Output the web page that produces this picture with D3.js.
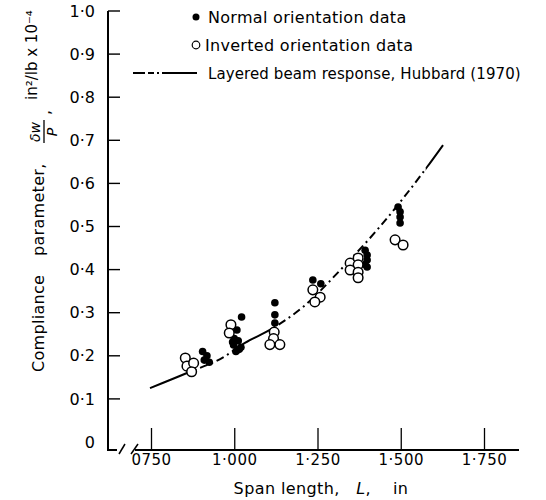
<!DOCTYPE html>
<html>
<head>
<meta charset="utf-8">
<script src="https://cdn.jsdelivr.net/npm/d3@7"></script>
<style>
  body { margin: 0; background: #fff; }
  text { font-family: "DejaVu Sans", sans-serif; fill: #000; }
</style>
</head>
<body>
<script>
// Width and height of the svg
var w = 546;
var h = 500;

// Axis ticks and labels
var xTicks = [0.75, 1.0, 1.25, 1.5, 1.75];
var xTickLabels = ["0750", "1·000", "1·250", "1·500", "1·750"];
var yTicks = [0, 0.1, 0.2, 0.3, 0.4, 0.5, 0.6, 0.7, 0.8, 0.9, 1.0];
var yTickLabels = ["0", "0·1", "0·2", "0·3", "0·4", "0·5", "0·6", "0·7", "0·8", "0·9", "1·0"];

// Normal orientation data (filled dots): span length, compliance
var normalSpan = [0.905, 0.918, 0.925, 0.910,
                  1.022, 1.008, 1.000, 1.012, 0.998, 1.020, 1.005, 1.015, 0.995,
                  1.122, 1.122, 1.122,
                  1.236, 1.260,
                  1.393, 1.399, 1.399, 1.399, 1.393,
                  1.492, 1.498, 1.498, 1.498];
var normalValue = [0.210, 0.200, 0.185, 0.190,
                   0.290, 0.260, 0.240, 0.235, 0.225, 0.220, 0.210, 0.215, 0.232,
                   0.323, 0.295, 0.276,
                   0.376, 0.367,
                   0.445, 0.434, 0.422, 0.406, 0.412,
                   0.545, 0.534, 0.522, 0.508];

// Inverted orientation data (open circles)
var invertedSpan = [0.853, 0.858, 0.878, 0.872,
                    0.990, 0.985,
                    1.120, 1.118, 1.107, 1.137,
                    1.236, 1.258, 1.242,
                    1.348, 1.372, 1.372, 1.348, 1.372, 1.372,
                    1.483, 1.507];
var invertedValue = [0.195, 0.176, 0.183, 0.163,
                     0.272, 0.253,
                     0.255, 0.240, 0.226, 0.226,
                     0.353, 0.336, 0.325,
                     0.415, 0.427, 0.411, 0.399, 0.394, 0.381,
                     0.469, 0.457];

// Layered beam response, Hubbard (1970)
var curveSpan = [0.747, 0.858, 0.968, 1.032, 1.107, 1.206, 1.327, 1.429, 1.579, 1.627];
var curveValue = [0.125, 0.160, 0.197, 0.230, 0.260, 0.313, 0.406, 0.492, 0.638, 0.689];
// Span ranges where the curve is drawn solid (dashed elsewhere)
var solidRanges = [[0.74, 0.885], [1.02, 1.115], [1.575, 1.70]];

var x = d3.scaleLinear().domain([0.75, 1.75]).range([151, 484]);
var y = d3.scaleLinear().domain([0, 1]).range([442, 11]);

var svg = d3.select("body")
        .append("svg")
        .attr("width", w)
        .attr("height", h);

var axisX = 108;   // y axis position
var axisY = 450;   // x axis sits a little below the zero level

// Y axis line, drawn as a thin filled rect, with hook at the bottom
svg.append("rect")
    .attr("x", axisX - 1).attr("y", y(1))
    .attr("width", 2).attr("height", axisY - y(1) + 1)
    .attr("fill", "#000");
svg.append("rect")
    .attr("x", axisX - 1).attr("y", axisY - 1)
    .attr("width", 10).attr("height", 2)
    .attr("fill", "#000");

// Y ticks pointing inward, as small rects
svg.selectAll("rect.ytick")
    .data(yTicks.slice(1))
    .enter()
    .append("rect")
    .attr("class", "ytick")
    .attr("x", axisX)
    .attr("y", function(d) { return y(d) - 0.7; })
    .attr("width", 12)
    .attr("height", 1.4)
    .attr("fill", "#000");

// Y tick labels from the library axis (ticks hidden, labels only)
var gy = svg.append("g")
    .attr("transform", "translate(" + axisX + ",0)")
    .call(d3.axisLeft(y)
        .tickValues(yTicks)
        .tickSize(0)
        .tickPadding(13)
        .tickFormat(function(d, i) { return yTickLabels[i]; }));
gy.select(".domain").remove();
gy.selectAll(".tick text")
    .attr("font-family", "DejaVu Sans")
    .attr("font-size", "16px")
    .attr("fill", "#000");

// Break marks
[[119, 125], [131, 138]].forEach(function(b) {
    svg.append("line")
        .attr("x1", b[0]).attr("y1", axisY + 4)
        .attr("x2", b[1]).attr("y2", axisY - 6)
        .attr("stroke", "#000")
        .attr("stroke-width", 1.5);
});

// X axis: ticks pointing up, labels below
var gx = svg.append("g")
    .attr("transform", "translate(0," + axisY + ")")
    .call(d3.axisBottom(x)
        .tickValues(xTicks)
        .tickSize(-22)
        .tickSizeOuter(0)
        .tickPadding(4)
        .tickFormat(function(d, i) { return xTickLabels[i]; }));
gx.select(".domain").remove();
gx.selectAll(".tick line").attr("stroke", "#000").attr("stroke-width", 1.3);
gx.selectAll(".tick text")
    .attr("font-family", "DejaVu Sans")
    .attr("font-size", "15px")
    .attr("letter-spacing", "0.5px")
    .attr("fill", "#000");

svg.append("line")
    .attr("x1", 135).attr("y1", axisY)
    .attr("x2", 519).attr("y2", axisY)
    .attr("stroke", "#000")
    .attr("stroke-width", 2);

// X axis title
var xt = svg.append("text")
    .attr("x", 321)
    .attr("y", 494)
    .attr("text-anchor", "middle")
    .attr("font-size", "16px")
    .attr("letter-spacing", "0.4px")
    .attr("xml:space", "preserve");
xt.append("tspan").text("Span length,   ");
xt.append("tspan").attr("font-style", "italic").text("L");
xt.append("tspan").text(",    in");

// Y axis title, rotated
var yt = svg.append("g").attr("transform", "translate(44,372) rotate(-90)");
yt.append("text").attr("x", 0).attr("y", 0).attr("font-size", "16px")
    .attr("letter-spacing", "0.3px").text("Compliance");
yt.append("text").attr("x", 116).attr("y", 0).attr("font-size", "16px")
    .attr("letter-spacing", "0.3px").text("parameter,");
yt.append("text").attr("x", 240).attr("y", -4).attr("text-anchor", "middle")
    .attr("font-size", "14px").attr("font-style", "italic").text("δw");
yt.append("line").attr("x1", 229).attr("x2", 252).attr("y1", 0).attr("y2", 0)
    .attr("stroke", "#000").attr("stroke-width", 1.3);
yt.append("text").attr("x", 240).attr("y", 13).attr("text-anchor", "middle")
    .attr("font-size", "14px").attr("font-style", "italic").text("P");
yt.append("text").attr("x", 257).attr("y", 6).attr("font-size", "16px").text(",");
yt.append("text").attr("x", 272).attr("y", -7).attr("font-size", "15px")
    .text("in²/lb x 10⁻⁴");

// Curve, split into solid and dashed parts with clip paths
var line = d3.line()
    .x(function(d) { return x(d[0]); })
    .y(function(d) { return y(d[1]); })
    .curve(d3.curveMonotoneX);
var curvePts = curveSpan.map(function(s, i) { return [s, curveValue[i]]; });

var dashedRanges = [];
var prev = 0.7;
solidRanges.forEach(function(r) { dashedRanges.push([prev, r[0]]); prev = r[1]; });
dashedRanges.push([prev, 1.9]);

var defs = svg.append("defs");
function makeClip(id, ranges) {
    var cp = defs.append("clipPath").attr("id", id);
    ranges.forEach(function(r) {
        cp.append("rect")
            .attr("x", x(r[0])).attr("y", 0)
            .attr("width", x(r[1]) - x(r[0])).attr("height", h);
    });
}
makeClip("solidClip", solidRanges);
makeClip("dashClip", dashedRanges);

svg.append("path")
    .attr("d", line(curvePts))
    .attr("fill", "none")
    .attr("stroke", "#000")
    .attr("stroke-width", 2)
    .attr("clip-path", "url(#solidClip)");
svg.append("path")
    .attr("d", line(curvePts))
    .attr("fill", "none")
    .attr("stroke", "#000")
    .attr("stroke-width", 2)
    .attr("stroke-dasharray", "8,4,2,4")
    .attr("clip-path", "url(#dashClip)");

// Normal orientation data
svg.selectAll(".normal")
    .data(normalSpan)
    .enter()
    .append("circle")
    .attr("class", "normal")
    .attr("cx", function(d) { return x(d); })
    .attr("cy", function(d, i) { return y(normalValue[i]); })
    .attr("r", 3.8)
    .attr("fill", "#000");

// Inverted orientation data
svg.selectAll(".inverted")
    .data(invertedSpan)
    .enter()
    .append("circle")
    .attr("class", "inverted")
    .attr("cx", function(d) { return x(d); })
    .attr("cy", function(d, i) { return y(invertedValue[i]); })
    .attr("r", 4.8)
    .attr("fill", "#fff")
    .attr("stroke", "#000")
    .attr("stroke-width", 1.5);

// Legend
svg.append("circle").attr("cx", 196).attr("cy", 17).attr("r", 3.5).attr("fill", "#000");
svg.append("text").attr("x", 208).attr("y", 23).attr("font-size", "16px")
    .attr("letter-spacing", "0.3px").text("Normal orientation data");
svg.append("circle").attr("cx", 196).attr("cy", 45).attr("r", 3.8)
    .attr("fill", "#fff").attr("stroke", "#000").attr("stroke-width", 1.2);
svg.append("text").attr("x", 205).attr("y", 51).attr("font-size", "16px")
    .attr("letter-spacing", "0.3px").text("Inverted orientation data");
svg.append("line")
    .attr("x1", 133).attr("x2", 197).attr("y1", 73).attr("y2", 73)
    .attr("stroke", "#000").attr("stroke-width", 2)
    .attr("stroke-dasharray", "12,3,6,3,2,3,35");
svg.append("text").attr("x", 208).attr("y", 79).attr("font-size", "15px")
    .attr("letter-spacing", "0.1px").text("Layered beam response, Hubbard (1970)");
</script>
</body>
</html>
